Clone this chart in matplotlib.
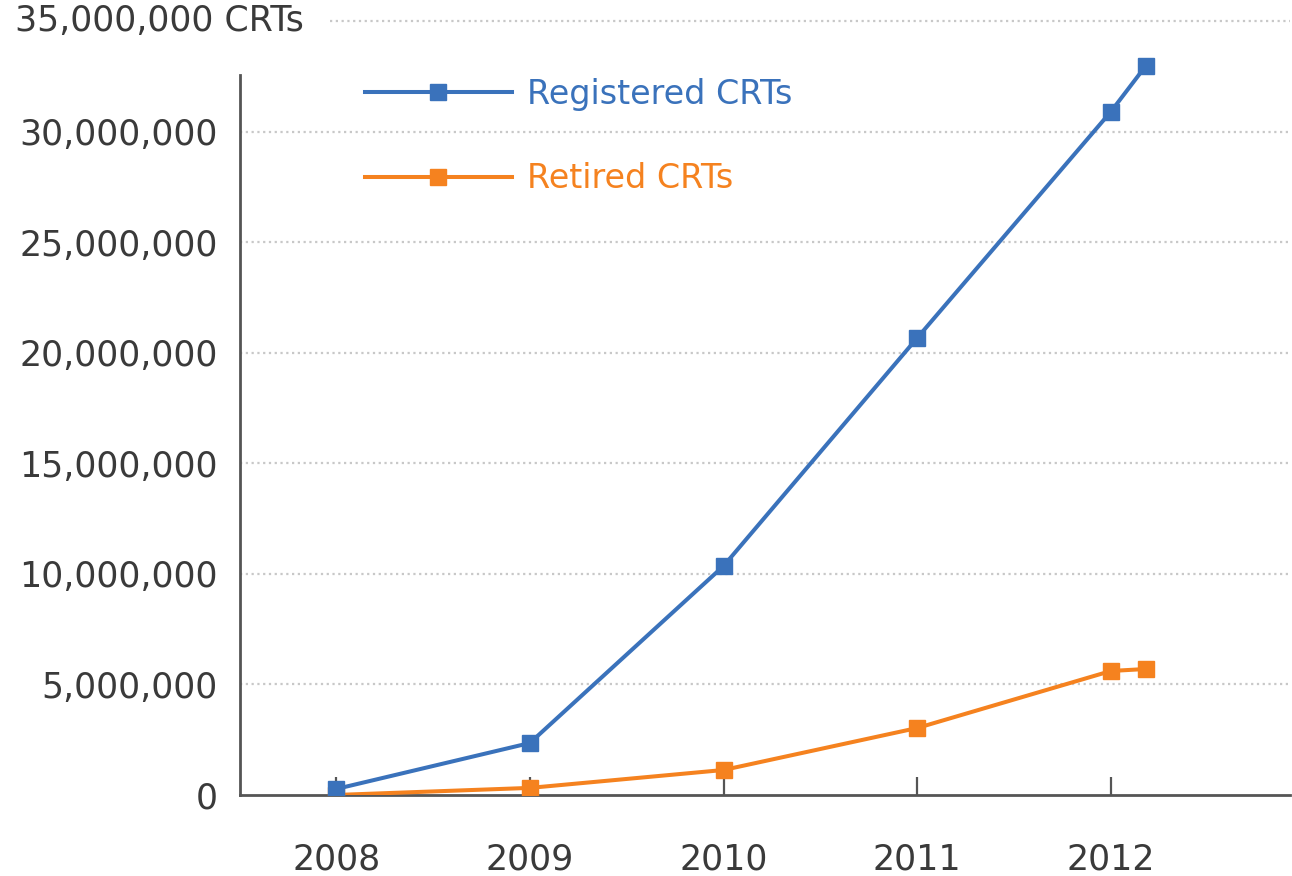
import matplotlib
matplotlib.use("Agg")
import matplotlib.pyplot as plt
from matplotlib.ticker import FuncFormatter

# data
years = [2008, 2009, 2010, 2011, 2012, 2012.18]
registered = [270000, 2350000, 10360000, 20680000, 30920000, 32990000]
retired = [0, 320000, 1130000, 3030000, 5610000, 5700000]
year_ticks = [2008, 2009, 2010, 2011, 2012]
y_ticks = [0, 5000000, 10000000, 15000000, 20000000, 25000000, 30000000]

blue = "#3a72bb"
orange = "#f5821f"
text_gray = "#3a3a3a"
spine_gray = "#555555"

plt.rcParams["font.family"] = ["DejaVu Sans"]

fig = plt.figure(figsize=(12.92, 8.76), dpi=100)
ax = fig.add_axes([0.1858, 0.0925, 0.8127, 0.883])

ax.plot(years, retired, color=orange, lw=2.9, marker="s", ms=11.5,
        label="Retired CRTs", zorder=3)
ax.plot(years, registered, color=blue, lw=2.9, marker="s", ms=11.5,
        label="Registered CRTs", zorder=4)

ax.set_xlim(2007.504, 2012.925)
ax.set_ylim(0, 35000000)

# dotted gridlines
for v in y_ticks[1:]:
    ax.axhline(v, color="#c8c8c8", lw=1.6, ls=(0, (1, 1.6)), zorder=1)
ax.axhline(35000000, xmin=0.086, color="#c8c8c8", lw=1.6, ls=(0, (1, 1.6)),
           zorder=1, clip_on=False)

ax.set_xticks(year_ticks)
ax.set_yticks(y_ticks)
ax.yaxis.set_major_formatter(FuncFormatter(lambda v, p: f"{int(v):,}"))
ax.tick_params(axis="x", direction="in", length=13, width=1.6,
               color=spine_gray, pad=34, labelsize=25, labelcolor=text_gray)
ax.tick_params(axis="y", length=0, pad=16, labelsize=25, labelcolor=text_gray)

# top label sits above the axis with the unit
ax.text(-0.214, 1.0, "35,000,000 CRTs", transform=ax.transAxes,
        ha="left", va="center", fontsize=25, color=text_gray)

for s in ["top", "right"]:
    ax.spines[s].set_visible(False)
ax.spines["left"].set_bounds(0, 32580000)
for s in ["left", "bottom"]:
    ax.spines[s].set_color(spine_gray)
    ax.spines[s].set_linewidth(2)

handles, labels = ax.get_legend_handles_labels()
leg = ax.legend(handles[::-1], labels[::-1], loc="upper left",
                bbox_to_anchor=(0.0905, 0.966), frameon=False, fontsize=24,
                handlelength=4.4, handletextpad=0.45, labelspacing=1.55,
                labelcolor="linecolor")

fig.savefig("out.png", dpi=100, facecolor="white")
